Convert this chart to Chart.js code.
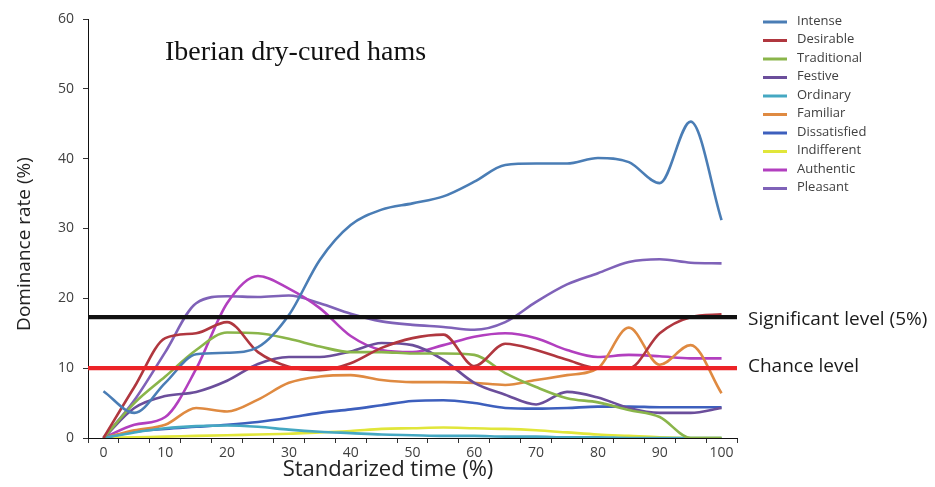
<!DOCTYPE html>
<html>
<head>
<meta charset="utf-8">
<script src="https://cdn.jsdelivr.net/npm/chart.js@4.4.1/dist/chart.umd.min.js"></script>
<style>
  html, body { margin: 0; padding: 0; background: #ffffff; }
  #wrap { width: 935px; height: 487px; }
</style>
</head>
<body>
<div id="wrap"><canvas id="tds" width="935" height="487"></canvas></div>
<script>
// Standardized time (% of tasting), sampled every 5 %
const timePct = [0, 5, 10, 15, 20, 25, 30, 35, 40, 45, 50, 55, 60, 65, 70, 75, 80, 85, 90, 95, 100];

// Dominance rate (%) of each attribute
const intense      = [6.7, 3.6, 7.9, 12.0, 12.2, 13.0, 17.6, 25.5, 30.5, 32.7, 33.6, 34.6, 36.7, 39.1, 39.3, 39.3, 40.1, 39.5, 36.5, 45.3, 31.2];
const desirable    = [0, 7.3, 14.3, 15.0, 16.6, 12.3, 10.2, 9.7, 10.7, 12.9, 14.3, 14.8, 10.3, 13.5, 12.6, 11.2, 10.0, 10.0, 15.0, 17.3, 17.7];
const traditional  = [0, 5.0, 8.8, 12.6, 15.1, 15.0, 14.2, 13.1, 12.3, 12.3, 12.1, 12.1, 11.9, 9.3, 7.3, 5.7, 5.1, 4.0, 3.0, 0, 0];
const festive      = [0, 4.3, 6.0, 6.6, 8.2, 10.6, 11.6, 11.6, 12.4, 13.6, 13.3, 11.2, 7.9, 6.2, 4.8, 6.6, 5.8, 4.3, 3.6, 3.6, 4.3];
const ordinary     = [0, 0.8, 1.4, 1.7, 1.8, 1.6, 1.2, 0.9, 0.7, 0.5, 0.4, 0.3, 0.3, 0.2, 0.2, 0.1, 0.1, 0, 0, 0, 0];
const familiar     = [0, 1.1, 1.9, 4.3, 3.8, 5.5, 7.9, 8.8, 9.0, 8.3, 8.0, 8.0, 7.9, 7.6, 8.3, 9.0, 10.0, 15.8, 10.5, 13.3, 6.4];
const dissatisfied = [0, 0.9, 1.3, 1.6, 1.9, 2.3, 2.9, 3.6, 4.1, 4.7, 5.3, 5.4, 5.0, 4.3, 4.2, 4.3, 4.5, 4.5, 4.4, 4.4, 4.4];
const indifferent  = [0, 0.1, 0.2, 0.3, 0.4, 0.5, 0.6, 0.8, 1.0, 1.3, 1.4, 1.5, 1.4, 1.3, 1.1, 0.8, 0.5, 0.3, 0.1, 0, 0];
const authentic    = [0, 1.9, 3.0, 9.9, 19.3, 23.2, 21.4, 18.6, 14.6, 12.6, 12.3, 13.3, 14.5, 15.0, 14.3, 12.6, 11.6, 11.9, 11.7, 11.4, 11.4];
const pleasant     = [0, 5.4, 12.3, 19.3, 20.3, 20.2, 20.4, 19.3, 17.8, 16.7, 16.2, 15.9, 15.5, 16.6, 19.5, 22.0, 23.6, 25.2, 25.6, 25.1, 25.0];

const attributeNames = ['Intense', 'Desirable', 'Traditional', 'Festive', 'Ordinary',
                        'Familiar', 'Dissatisfied', 'Indifferent', 'Authentic', 'Pleasant'];
const attributeValues = [intense, desirable, traditional, festive, ordinary,
                         familiar, dissatisfied, indifferent, authentic, pleasant];
const attributeColors = ['#4a7db5', '#b0373f', '#8ab54a', '#6b4e9b', '#45a8c2',
                         '#df8a41', '#3d5fbd', '#e1e63a', '#b23fbf', '#7f62b8'];

// Reference levels (%)
const significantLevel = 17.3;
const chanceLevel = 10;
const levelNames = ['Significant level (5%)', 'Chance level'];

// Axis ticks
const yTicks = [0, 10, 20, 30, 40, 50, 60];
const xLabelTicks = [0, 10, 20, 30, 40, 50, 60, 70, 80, 90, 100];
const xMin = -2.5, xMax = 102.5;

const FONT = "'Open Sans', 'DejaVu Sans', sans-serif";

const seriesDatasets = attributeNames.map((name, i) => ({
  label: name,
  data: timePct.map((t, k) => ({ x: t, y: attributeValues[i][k] })),
  borderColor: attributeColors[i],
  backgroundColor: attributeColors[i],
  borderWidth: 2.6,
  pointRadius: 0,
  cubicInterpolationMode: 'monotone',
  fill: false,
  order: 1 + i
}));

const levelDatasets = [
  { label: levelNames[0], value: significantLevel, color: '#111111' },
  { label: levelNames[1], value: chanceLevel, color: '#ec2327' }
].map(l => ({
  label: l.label,
  data: [{ x: xMin, y: l.value }, { x: xMax, y: l.value }],
  borderColor: l.color,
  backgroundColor: l.color,
  borderWidth: 4.2,
  pointRadius: 0,
  fill: false,
  order: 0
}));

// Texts outside the plot: title, axis titles, legend, level labels
const annotations = {
  id: 'annotations',
  afterDraw(chart) {
    const { ctx, scales } = chart;
    ctx.save();

    // Title
    ctx.fillStyle = '#111111';
    ctx.font = "28px 'Liberation Serif', 'DejaVu Serif', serif";
    ctx.textAlign = 'left';
    ctx.textBaseline = 'alphabetic';
    ctx.fillText('Iberian dry-cured hams', 165, 60);

    // Axis titles
    ctx.fillStyle = '#222222';
    ctx.font = '22px ' + FONT;
    ctx.textAlign = 'center';
    ctx.textBaseline = 'middle';
    ctx.fillText('Standarized time (%)', 388, 470);

    ctx.save();
    ctx.translate(25, 244);
    ctx.rotate(-Math.PI / 2);
    ctx.font = '19px ' + FONT;
    ctx.fillText('Dominance rate (%)', 0, 0);
    ctx.restore();

    // Legend
    ctx.font = '13px ' + FONT;
    ctx.textAlign = 'left';
    ctx.textBaseline = 'middle';
    attributeNames.forEach((name, i) => {
      const y = 21 + i * 18.5;
      ctx.strokeStyle = attributeColors[i];
      ctx.lineWidth = 3;
      ctx.beginPath();
      ctx.moveTo(763, y + 1);
      ctx.lineTo(787, y + 1);
      ctx.stroke();
      ctx.fillStyle = '#404040';
      ctx.fillText(name, 797, y);
    });

    // Level labels
    ctx.fillStyle = '#1a1a1a';
    ctx.font = '19px ' + FONT;
    ctx.fillText(levelNames[0], 748, scales.y.getPixelForValue(significantLevel) + 2);
    ctx.fillText(levelNames[1], 748, scales.y.getPixelForValue(chanceLevel) - 2);

    ctx.restore();
  }
};

new Chart(document.getElementById('tds'), {
  type: 'line',
  data: { datasets: [...levelDatasets, ...seriesDatasets] },
  options: {
    responsive: false,
    animation: false,
    devicePixelRatio: 1,
    layout: { padding: { top: 19, right: 198, left: 0, bottom: 0 } },
    plugins: {
      legend: { display: false },
      tooltip: { enabled: false },
      title: { display: false }
    },
    scales: {
      x: {
        type: 'linear',
        min: xMin,
        max: xMax,
        afterBuildTicks(scale) {
          const ticks = [];
          for (let v = xMin; v <= xMax + 1e-9; v += 2.5) ticks.push({ value: v });
          scale.ticks = ticks;
        },
        afterFit(scale) { scale.height = 49; },
        border: { display: true, color: '#111111', width: 1 },
        grid: {
          drawOnChartArea: false,
          drawTicks: true,
          tickLength: 5,
          tickWidth: 1,
          tickColor(ctx) {
            const v = ctx.tick ? ctx.tick.value : 0;
            const r = Math.abs(((v - xMin) % 5 + 5) % 5);
            return (r < 1e-6 || Math.abs(r - 5) < 1e-6) ? '#333333' : 'rgba(0,0,0,0)';
          }
        },
        ticks: {
          autoSkip: false,
          maxRotation: 0,
          padding: 2,
          color: '#404040',
          font: { family: FONT, size: 14 },
          callback(value) {
            return xLabelTicks.includes(value) ? String(value) : '';
          }
        }
      },
      y: {
        type: 'linear',
        min: 0,
        max: 60,
        afterBuildTicks(scale) { scale.ticks = yTicks.map(v => ({ value: v })); },
        afterFit(scale) { scale.width = 88; },
        border: { display: true, color: '#111111', width: 1 },
        grid: {
          drawOnChartArea: false,
          drawTicks: true,
          tickLength: 5,
          tickColor: '#333333'
        },
        ticks: {
          padding: 9,
          color: '#404040',
          font: { family: FONT, size: 14 }
        }
      }
    }
  },
  plugins: [annotations]
});
</script>
</body>
</html>
